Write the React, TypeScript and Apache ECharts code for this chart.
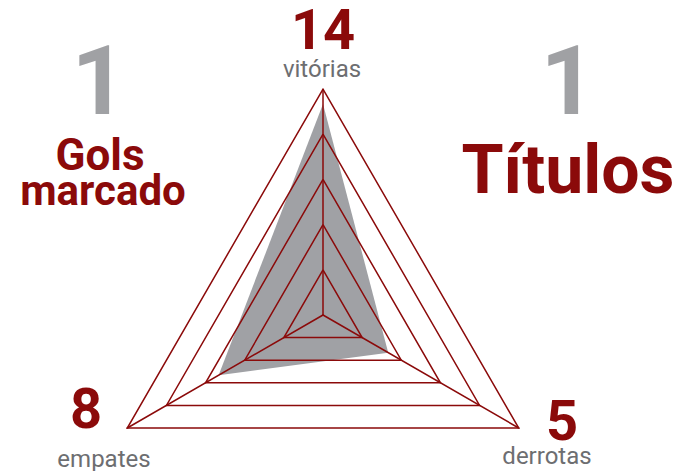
import React, { useEffect, useRef } from "react";
import * as echarts from "echarts";

const indicatorNames = ["vitórias", "empates", "derrotas"];
const indicatorValues = [14, 8, 5];
const indicatorMax = 15;
const golsMarcados = 1;
const golsLabel = ["Gols", "marcado"];
const titulos = 1;
const titulosLabel = "Títulos";

const RED = "#8b0a0a";
const GRAY_FILL = "#a0a1a5";
const GRAY_BIG = "#a0a1a4";
const GRAY_TEXT = "#6d6e71";
const FONT = "Roboto, 'Noto Sans', sans-serif";

// layout of the labels for each indicator (value position, name position)
const labelLayout = [
  { vx: 323, vy: 30, nx: 322, ny: 69 },
  { vx: 86, vy: 409, nx: 104, ny: 459 },
  { vx: 562, vy: 421, nx: 547, ny: 456 },
];

function txt(x: number, y: number, text: string, size: number, bold: boolean, fill: string, lh: number) {
  return {
    type: "text",
    x,
    y,
    style: {
      text,
      font: `${bold ? "bold " : ""}${size}px ${FONT}`,
      fill,
      align: "center",
      verticalAlign: "middle",
      lineHeight: lh,
    },
  };
}

export default function App() {
  const ref = useRef<HTMLDivElement>(null);
  useEffect(() => {
    if (!ref.current) return;
    const chart = echarts.init(ref.current, undefined, { renderer: "svg" });

    const graphics: any[] = [];
    indicatorNames.forEach((name, i) => {
      const l = labelLayout[i];
      graphics.push(txt(l.vx, l.vy, String(indicatorValues[i]), 56, true, RED, 42));
      graphics.push(txt(l.nx, l.ny, name, 24, false, GRAY_TEXT, 20));
    });
    graphics.push(
      txt(99, 81, String(golsMarcados), 96, true, GRAY_BIG, 72),
      txt(100, 155, golsLabel[0], 44, true, RED, 34),
      txt(103, 190, golsLabel[1], 42, true, RED, 32),
      txt(568, 81, String(titulos), 96, true, GRAY_BIG, 72),
      txt(568, 170, titulosLabel, 68, true, RED, 54)
    );

    chart.setOption({
      animation: false,
      backgroundColor: "#ffffff",
      radar: {
        z: 3,
        center: [323, 315],
        radius: 226,
        startAngle: 90,
        shape: "polygon",
        splitNumber: 5,
        indicator: indicatorNames.map((name) => ({ name, max: indicatorMax, min: 0 })),
        axisName: { show: false },
        axisLine: { show: true, lineStyle: { color: RED, width: 1.5 } },
        axisTick: { show: false },
        axisLabel: { show: false },
        splitLine: { show: true, lineStyle: { color: RED, width: 1.5 } },
        splitArea: {
          show: true,
          areaStyle: {
            color: [GRAY_FILL, "rgba(0,0,0,0)", "rgba(0,0,0,0)", "rgba(0,0,0,0)", "rgba(0,0,0,0)"],
          },
        },
      },
      graphic: graphics,
      series: [
        {
          type: "radar",
          z: 1,
          symbol: "none",
          lineStyle: { width: 0, color: GRAY_FILL },
          itemStyle: { color: GRAY_FILL },
          areaStyle: { color: GRAY_FILL, opacity: 1 },
          data: [{ value: indicatorValues, name: "Resultados" }],
        },
      ],
    });
    return () => chart.dispose();
  }, []);
  return (
    <div
      ref={ref}
      style={{ position: "fixed", left: 0, top: 0, width: 688, height: 471 }}
    />
  );
}
